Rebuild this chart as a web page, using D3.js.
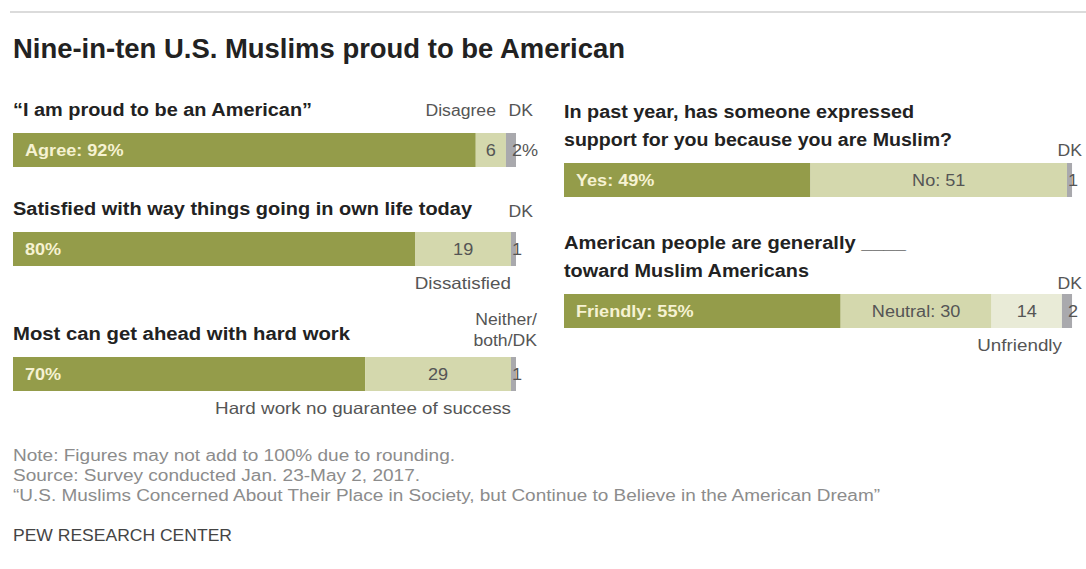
<!DOCTYPE html>
<html><head><meta charset="utf-8">
<script src="https://cdn.jsdelivr.net/npm/d3@7"></script>
<style>body{margin:0;background:#fff} text{font-family:"Liberation Sans",Arial,sans-serif}</style>
</head><body><svg id="c" width="1086" height="569"></svg>
<script>
// ---------- data ----------
const chartTitle = "Nine-in-ten U.S. Muslims proud to be American";
const proudQuestion = ["\u201CI am proud to be an American\u201D"];
const satisfiedQuestion = ["Satisfied with way things going in own life today"];
const hardWorkQuestion = ["Most can get ahead with hard work"];
const supportQuestion = ["In past year, has someone expressed", "support for you because you are Muslim?"];
const friendlyQuestion = ["American people are generally ____", "toward Muslim Americans"];

const proudValues = [92, 6, 2];
const satisfiedValues = [80, 19, 1];
const hardWorkValues = [70, 29, 1];
const supportValues = [49, 51, 1];
const friendlyValues = [55, 30, 14, 2];

const proudLabels = ["Agree: 92%", "6", "2%"];
const satisfiedLabels = ["80%", "19", "1"];
const hardWorkLabels = ["70%", "29", "1"];
const supportLabels = ["Yes: 49%", "No: 51", "1"];
const friendlyLabels = ["Friendly: 55%", "Neutral: 30", "14", "2"];

const proudCategories = ["Agree", "Disagree", "DK"];
const satisfiedCategories = ["Satisfied", "Dissatisfied", "DK"];
const hardWorkCategories = ["Hard work", "Hard work no guarantee of success", "Neither/\nboth/DK"];
const supportCategories = ["Yes", "No", "DK"];
const friendlyCategories = ["Friendly", "Neutral", "Unfriendly", "DK"];

const footerLines = [
  "Note: Figures may not add to 100% due to rounding.",
  "Source: Survey conducted Jan. 23-May 2, 2017.",
  "\u201CU.S. Muslims Concerned About Their Place in Society, but Continue to Believe in the American Dream\u201D"
];
const sourceLabel = "PEW RESEARCH CENTER";

// ---------- layout / style ----------
const svg = d3.select("#c");
const barH = 34;
const xLeft = d3.scaleLinear().domain([0, 100]).range([13, 516]);
const xRight = d3.scaleLinear().domain([0, 100]).range([564, 1067]);
const COL = {main: "#949c4a", second: "#d4d8ad", third: "#e9ebd7", dk: "#a9a9ad"};

function fitWidth(sel, w) {
  sel.attr("textLength", w).attr("lengthAdjust", "spacingAndGlyphs");
}
// stretch text horizontally by k, handling anchors manually
function stretch(sel, k) {
  sel.each(function () {
    const el = d3.select(this);
    const n = this.getComputedTextLength();
    const w = n * k;
    const anchor = el.attr("text-anchor") || "start";
    const x = +el.attr("x");
    let sx = x;
    if (anchor === "end") sx = x - w;
    else if (anchor === "middle") sx = x - w / 2;
    el.attr("text-anchor", "start").attr("x", sx)
      .attr("textLength", w).attr("lengthAdjust", "spacingAndGlyphs");
  });
}

// top rule
svg.append("line").attr("x1", 10).attr("x2", 1086).attr("y1", 12).attr("y2", 12)
  .attr("stroke", "#cfcfcf").attr("stroke-width", 1.5);

// title
svg.append("text").attr("x", 13).attr("y", 58).text(chartTitle)
  .attr("font-size", 28).attr("font-weight", "bold").attr("fill", "#222")
  .call(fitWidth, 612);

const panels = [
  {q: proudQuestion, qw: [299], v: proudValues, lab: proudLabels, cat: proudCategories, x: xLeft, y: 133,
   roles: ["main", "second", "dk"], head: [{i: 1, dx: -10, dy: -17}, {i: 2, dx: 17, dy: -17}], below: []},
  {q: satisfiedQuestion, qw: [459], v: satisfiedValues, lab: satisfiedLabels, cat: satisfiedCategories, x: xLeft, y: 232,
   roles: ["main", "second", "dk"], head: [{i: 2, dx: 17, dy: -15}], below: [1]},
  {q: hardWorkQuestion, qw: [337], v: hardWorkValues, lab: hardWorkLabels, cat: hardWorkCategories, x: xLeft, y: 357,
   roles: ["main", "second", "dk"], head: [{i: 2, dx: 21, dy: -11}], below: [1]},
  {q: supportQuestion, qw: [350, 388], v: supportValues, lab: supportLabels, cat: supportCategories, x: xRight, y: 163,
   roles: ["main", "second", "dk"], head: [{i: 2, dx: 15, dy: -7}], below: []},
  {q: friendlyQuestion, qw: [342, 245], v: friendlyValues, lab: friendlyLabels, cat: friendlyCategories, x: xRight, y: 294,
   roles: ["main", "second", "third", "dk"], head: [{i: 3, dx: 15, dy: -5}], below: [2]}
];

panels.forEach(p => {
  const g = svg.append("g");
  const x = p.x;
  const x0 = x(0);
  const n = p.q.length;
  p.q.forEach((line, i) => {
    g.append("text").attr("x", x0).attr("y", p.y - 17 - (n - 1 - i) * 28).text(line)
      .attr("font-size", 18).attr("font-weight", "bold").attr("fill", "#222")
      .call(fitWidth, p.qw[i]);
  });
  let acc = 0;
  const segs = p.v.map((v, i) => { const s = {start: acc, end: acc + v, v, i}; acc += v; return s; });
  g.selectAll("rect").data(segs).join("rect")
    .attr("x", d => x(d.start)).attr("y", p.y)
    .attr("width", d => x(d.end) - x(d.start)).attr("height", barH)
    .attr("fill", d => COL[p.roles[d.i]]);
  segs.forEach(d => {
    const role = p.roles[d.i];
    const t = g.append("text").attr("y", p.y + barH / 2 + 5.5).text(p.lab[d.i]).attr("font-size", 16);
    if (role === "main") {
      t.attr("x", x0 + 12).attr("font-weight", "bold").attr("fill", "#f6f2d2");
    } else if (role === "dk") {
      t.attr("x", x(d.end) - 4).attr("fill", "#555");
    } else {
      t.attr("x", (x(d.start) + x(d.end)) / 2).attr("text-anchor", "middle").attr("fill", "#555");
    }
    t.call(stretch, 1.13);
  });
  const xEnd = x(Math.min(acc, 100));
  p.head.forEach(h => {
    const lines = p.cat[h.i].split("\n");
    const ax = h.i === 1 ? x(segs[1].end) : xEnd;
    lines.forEach((ln, k) => {
      g.append("text").attr("x", ax + h.dx).attr("y", p.y + h.dy - (lines.length - 1 - k) * 21)
        .attr("text-anchor", "end").attr("font-size", 16).attr("fill", "#555").text(ln)
        .call(stretch, 1.1);
    });
  });
  p.below.forEach(i => {
    g.append("text").attr("x", x(segs[i].end)).attr("y", p.y + barH + 23)
      .attr("text-anchor", "end").attr("font-size", 16.5).attr("fill", "#555").text(p.cat[i])
      .call(stretch, 1.14);
  });
});

// footer
const fw = [442, 407, 867];
footerLines.forEach((l, i) => {
  svg.append("text").attr("x", 13).attr("y", 461 + i * 20).text(l)
    .attr("font-size", 16).attr("fill", "#8c8c8c").call(fitWidth, fw[i]);
});
svg.append("text").attr("x", 13).attr("y", 541).text(sourceLabel)
  .attr("font-size", 16.5).attr("fill", "#444").call(fitWidth, 219);
</script>
</body></html>
